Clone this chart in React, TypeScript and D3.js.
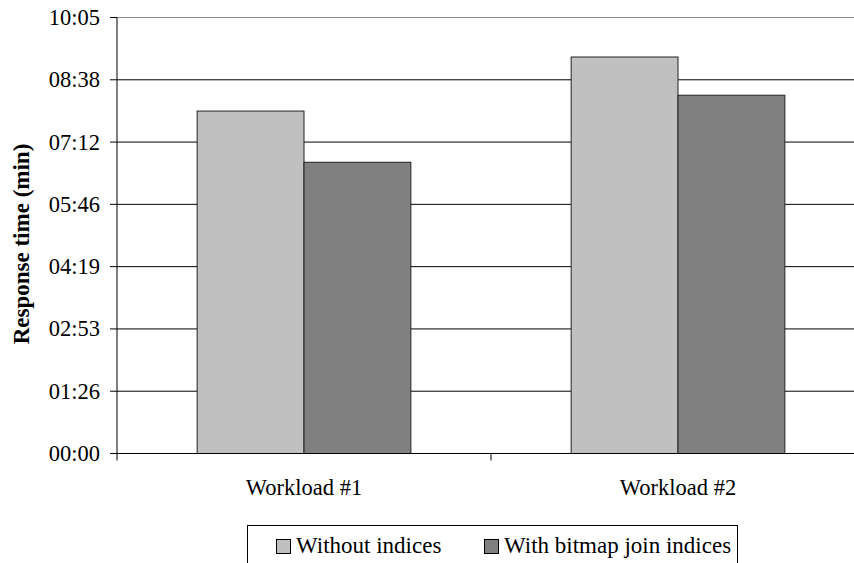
import { useEffect, useState } from "react"
import * as d3 from "d3"

// response times in seconds
const categories = ["Workload #1", "Workload #2"]
const seriesNames = ["Without indices", "With bitmap join indices"]
const withoutIndices = [475, 550]
const withBitmapJoin = [404, 497]
const seriesColors = ["#c0c0c0", "#808080"]
// Excel axis: major unit 0.001 day = 86.4 s, max 0.007 day
const tickValues = [0, 86.4, 172.8, 259.2, 345.6, 432, 518.4, 604.8]

const width = 854
const height = 563
const margin = { top: 17.5, left: 117, bottom: 453.5, right: 865 }
const ts = { fontFamily: "'Liberation Serif', Tinos, 'Times New Roman', Times, serif" }

const fmt = (s: number) => {
  const t = Math.round(s)
  const m = Math.floor(t / 60)
  const sec = t % 60
  return `${String(m).padStart(2, "0")}:${String(sec).padStart(2, "0")}`
}

export default function App() {
  const [fontTick, setFontTick] = useState(0)
  useEffect(() => {
    document.body.style.margin = "0"
    document.body.style.fontFamily = ts.fontFamily
    if (document.fonts) {
      Promise.all([
        document.fonts.load("22px 'Liberation Serif'"),
        document.fonts.load("bold 22px 'Liberation Serif'"),
      ]).then(() => setFontTick((n) => n + 1))
    }
  }, [])

  const y = d3.scaleLinear().domain([0, 604.8]).range([margin.bottom, margin.top])
  const x = d3
    .scaleBand()
    .domain(categories)
    .range([margin.left, margin.right])
    .padding(0)
  const xInner = d3
    .scaleBand()
    .domain(seriesNames)
    .range([0, x.bandwidth()])
    .paddingInner(0)
    .paddingOuter(0.75)

  const series = [withoutIndices, withBitmapJoin]

  return (
    <svg key={fontTick} width={width} height={height} style={{ display: "block", background: "#fff", ...ts }}>
      {/* gridlines */}
      {tickValues.slice(1).map((t) => (
        <line key={"g" + t} x1={margin.left} x2={margin.right} y1={y(t)} y2={y(t)} stroke={t === 604.8 ? "#888" : "#000"} strokeWidth={1} />
      ))}

      {/* bars */}
      {categories.map((c, ci) =>
        seriesNames.map((s, si) => {
          const v = series[si][ci]
          const bx = (x(c) || 0) + (xInner(s) || 0)
          return (
            <rect
              key={c + s}
              x={bx}
              y={y(v)}
              width={xInner.bandwidth()}
              height={y(0) - y(v)}
              fill={seriesColors[si]}
              stroke="#222"
              strokeWidth={1}
            />
          )
        })
      )}

      {/* y axis */}
      <line x1={margin.left} x2={margin.left} y1={margin.top} y2={margin.bottom} stroke="#000" />
      {tickValues.map((t) => (
        <g key={"t" + t}>
          <line x1={margin.left - 7} x2={margin.left} y1={y(t)} y2={y(t)} stroke="#000" />
          <text x={margin.left - 17} y={y(t) + 7.5} textAnchor="end" fontSize={22.5} fill="#000" style={ts}>
            {fmt(t)}
          </text>
        </g>
      ))}

      {/* x axis */}
      <line x1={margin.left} x2={margin.right} y1={margin.bottom} y2={margin.bottom} stroke="#000" />
      {[...categories.map((c) => x(c) || 0), margin.right].map((px, i) => (
        <line key={"xt" + i} x1={px} x2={px} y1={margin.bottom} y2={margin.bottom + 7} stroke="#000" />
      ))}
      {categories.map((c) => (
        <text key={c} x={(x(c) || 0) + x.bandwidth() / 2} y={495} textAnchor="middle" fontSize={22.5} fill="#000" style={ts}>
          {c}
        </text>
      ))}

      {/* y label */}
      <text transform={`translate(29,244) rotate(-90)`} textAnchor="middle" fontSize={23} fontWeight="bold" fill="#000" style={ts}>
        Response time (min)
      </text>

      {/* legend */}
      <rect x={247.5} y={525.5} width={490} height={60} fill="#fff" stroke="#000" />
      {seriesNames.map((s, i) => {
        const lx = [276, 484][i]
        return (
          <g key={"l" + s}>
            <rect x={lx + 0.5} y={539.5} width={14} height={14} fill={seriesColors[i]} stroke="#000" />
            <text x={lx + 20} y={553} fontSize={23} fill="#000" style={ts}>
              {s}
            </text>
          </g>
        )
      })}
    </svg>
  )
}
